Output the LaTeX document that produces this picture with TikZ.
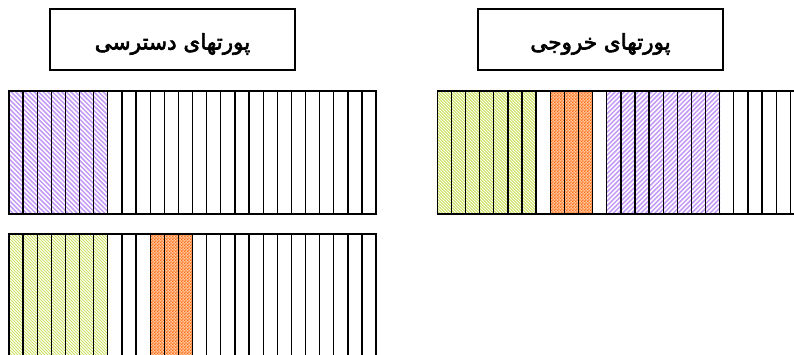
\documentclass[tikz,border=0pt]{standalone}
\usepackage{fontspec}
\usetikzlibrary{patterns}
\TeXXeTstate=1
\newfontfamily\arabicfont[Script=Arabic,FakeBold=3]{DejaVu Sans}
\definecolor{purp}{RGB}{196,155,245}
\definecolor{lgreen}{RGB}{205,225,100}
\definecolor{orng}{RGB}{255,105,15}
\definecolor{lorng}{RGB}{255,200,160}
\pgfdeclarepatternformonly{mychecks}{\pgfpoint{0pt}{0pt}}{\pgfpoint{2.8pt}{2.8pt}}{\pgfpoint{2.8pt}{2.8pt}}{%
  \pgfpathrectangle{\pgfpoint{0pt}{0pt}}{\pgfpoint{1.4pt}{1.4pt}}%
  \pgfpathrectangle{\pgfpoint{1.4pt}{1.4pt}}{\pgfpoint{1.4pt}{1.4pt}}%
  \pgfusepath{fill}}
\tikzset{
  cell/.style={draw=black, line width=1.3pt},
  purpline/.style={draw=purp, line width=1.5pt},
  greenline/.style={draw=lgreen, line width=1.0pt},
  orngfill/.style={fill=lorng, postaction={pattern=mychecks, pattern color=orng}},
  title/.style={draw=black, line width=1.3pt, minimum width=245pt, minimum height=61pt, inner sep=0pt},
  ttext/.style={inner sep=0pt, font=\arabicfont\fontsize{21.5}{26}\selectfont}
}
% back stripes "\" : x0 x1 ytop ybot period style
\newcommand\bstripes[6]{%
  \begin{scope}
  \clip (#1,#3) rectangle (#2,#4);
  \pgfmathsetmacro\hh{#4-#3}
  \foreach \s in {0,...,90} {
    \pgfmathsetmacro\xx{#1-\hh+\s*#5}
    \draw[#6] (\xx,#3) -- ({\xx+\hh},#4);
  }
  \end{scope}}
% forward stripes "/"
\newcommand\fstripes[6]{%
  \begin{scope}
  \clip (#1,#3) rectangle (#2,#4);
  \pgfmathsetmacro\hh{#4-#3}
  \foreach \s in {0,...,90} {
    \pgfmathsetmacro\xx{#1-\hh+\s*#5}
    \draw[#6] (\xx,#4) -- ({\xx+\hh},#3);
  }
  \end{scope}}
\newcommand\portrow[3]{% x0, ytop, ybottom
  \draw[cell] (#1,#2) rectangle ({#1+26*14.12},#3);
  \foreach \i in {1,...,25} \draw[cell] ({#1+\i*14.12},#2) -- ({#1+\i*14.12},#3);
}
\begin{document}
\begin{tikzpicture}[x=1pt,y=-1pt]
\useasboundingbox (0,0) rectangle (794,354);
\clip (0,0) rectangle (794,354);
\node[title] (t1) at (172.5,39.5) {};
\node[ttext] (l1) at (172.5,44) {\beginR پورتهای دسترسی\endR};
\node[title] (t2) at (600.5,39.5) {};
\node[ttext] (l2) at (600.5,44) {\beginR پورتهای خروجی\endR};
% top-left row
\bstripes{9}{107.84}{91}{214}{4.6}{purpline}
\portrow{9}{91}{214}
% bottom-left row
\bstripes{9}{107.84}{234}{370}{3.0}{greenline}
\fill[orngfill] ({9+10*14.12},234) rectangle ({9+13*14.12},370);
\portrow{9}{234}{370}
% right row
\bstripes{437.3}{536.14}{91}{214}{3.0}{greenline}
\fill[orngfill] ({437.3+8*14.12},91) rectangle ({437.3+11*14.12},214);
\fstripes{606.74}{720.0}{91}{214}{4.6}{purpline}
\portrow{437.3}{91}{214}
\end{tikzpicture}
\end{document}
